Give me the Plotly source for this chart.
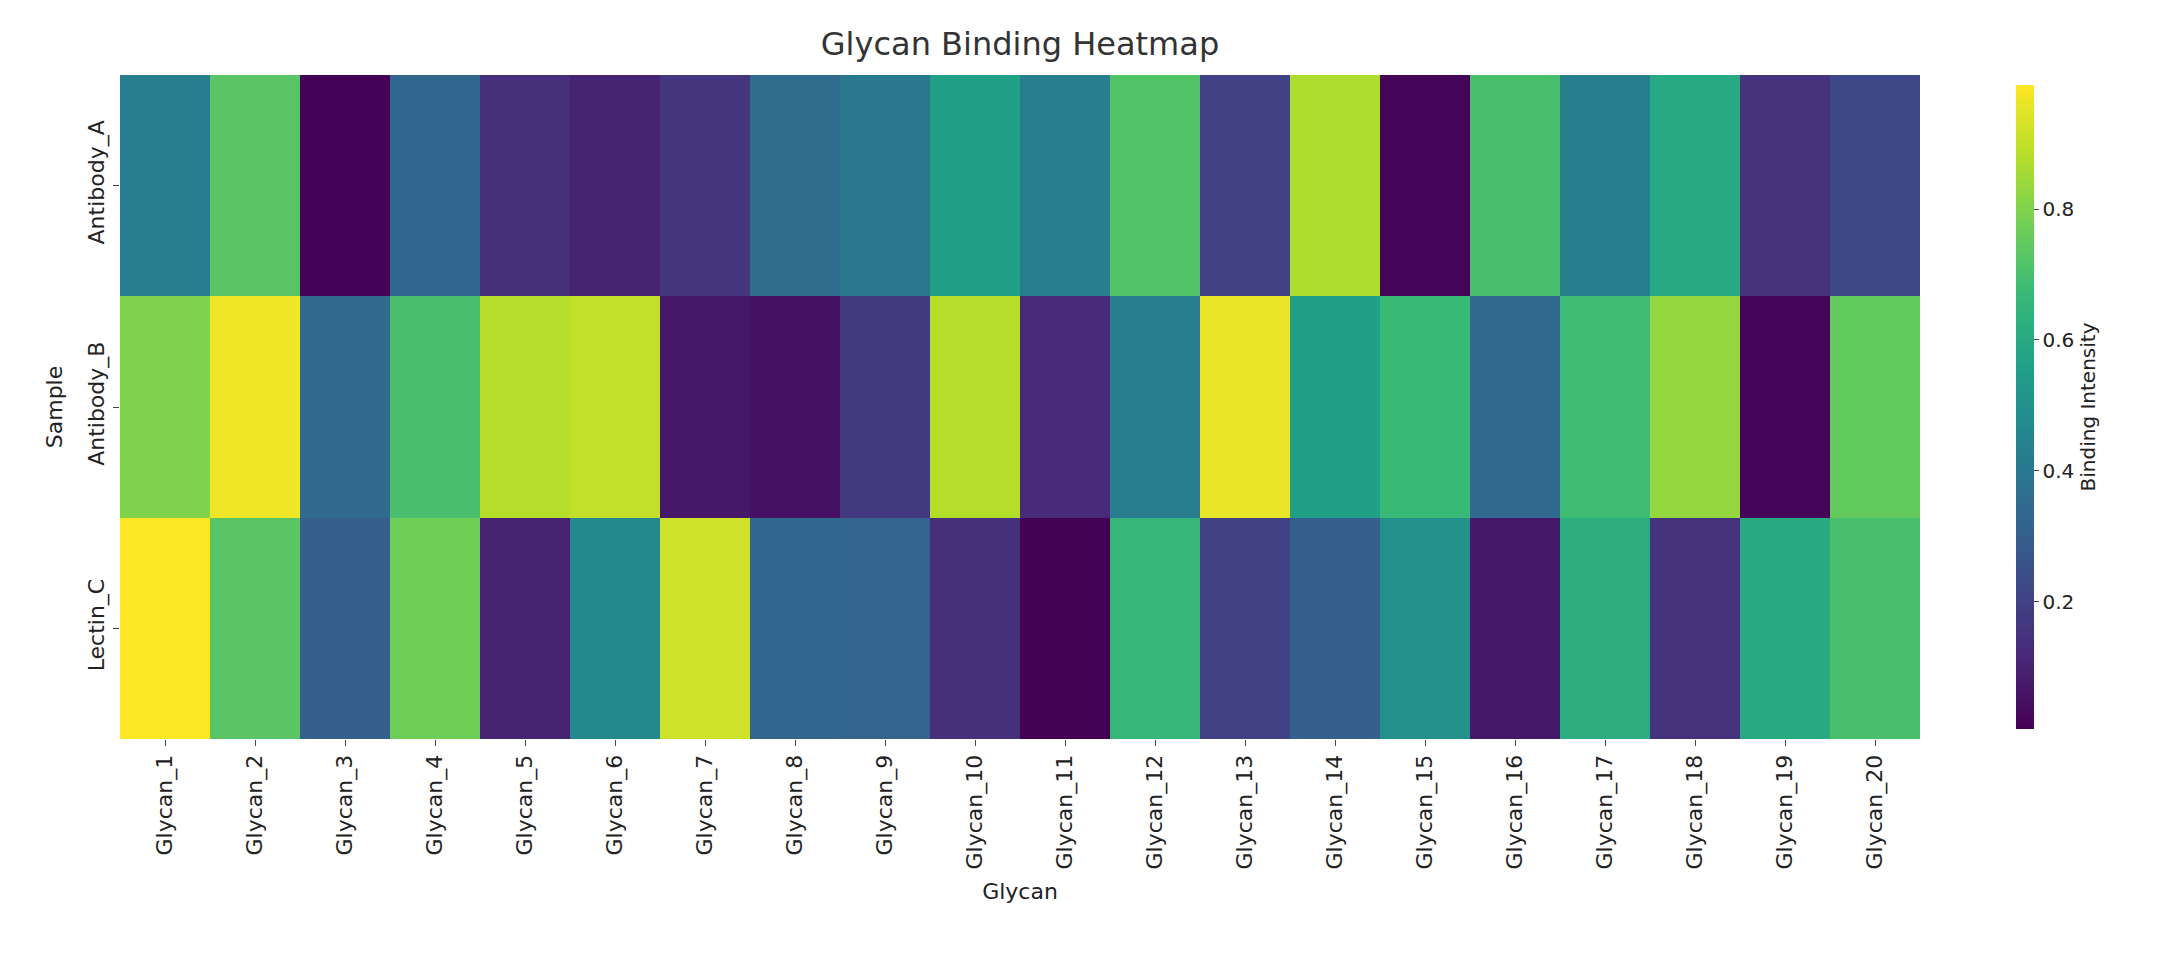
import plotly.graph_objects as go

# heatmap data
glycans = ["Glycan_%d" % i for i in range(1, 21)]
samples = ["Antibody_A", "Antibody_B", "Lectin_C"]

antibody_a = [0.42, 0.73, 0.01, 0.33, 0.14, 0.10, 0.16, 0.35, 0.40, 0.56,
              0.42, 0.72, 0.20, 0.87, 0.02, 0.70, 0.43, 0.60, 0.15, 0.22]
antibody_b = [0.80, 0.97, 0.34, 0.70, 0.88, 0.90, 0.07, 0.05, 0.17, 0.88,
              0.12, 0.42, 0.96, 0.56, 0.67, 0.34, 0.68, 0.83, 0.02, 0.75]
lectin_c = [0.99, 0.73, 0.30, 0.77, 0.10, 0.47, 0.92, 0.33, 0.32, 0.14,
            0.005, 0.66, 0.20, 0.30, 0.50, 0.07, 0.62, 0.15, 0.60, 0.70]

fig = go.Figure(go.Heatmap(
    z=[antibody_a, antibody_b, lectin_c],
    x=glycans, y=samples,
    colorscale="Viridis",
    colorbar={'title': {'text': "Binding Intensity", 'side': "right", 'font': {'size': 20}},
              'tickvals': [0.2, 0.4, 0.6, 0.8], 'ticks': "outside",
              'tickfont': {'size': 20}, 'thickness': 18, 'len': 1.0,
              'x': 1.048, 'xanchor': "left", 'outlinewidth': 0},
))

fig.update_layout(
    width=2182, height=979,
    title={'text': "Glycan Binding Heatmap", 'x': 0.5, 'xref': "paper", 'y': 0.975,
           'font': {'size': 32, 'color': "#333333"}},
    font={'family': "DejaVu Sans", 'color': "#222222"},
    plot_bgcolor="white", paper_bgcolor="white",
    margin={'l': 112, 'r': 270, 't': 67, 'b': 248},
)
fig.update_xaxes(title={'text': "Glycan", 'font': {'size': 22}}, tickangle=-90,
                 tickfont={'size': 22}, ticks="outside", ticklen=6, showgrid=False)
fig.update_yaxes(title={'text': "Sample", 'font': {'size': 22}}, tickangle=-90,
                 tickfont={'size': 22}, ticks="outside", ticklen=6, showgrid=False,
                 autorange="reversed")

fig.write_html("out.html")
